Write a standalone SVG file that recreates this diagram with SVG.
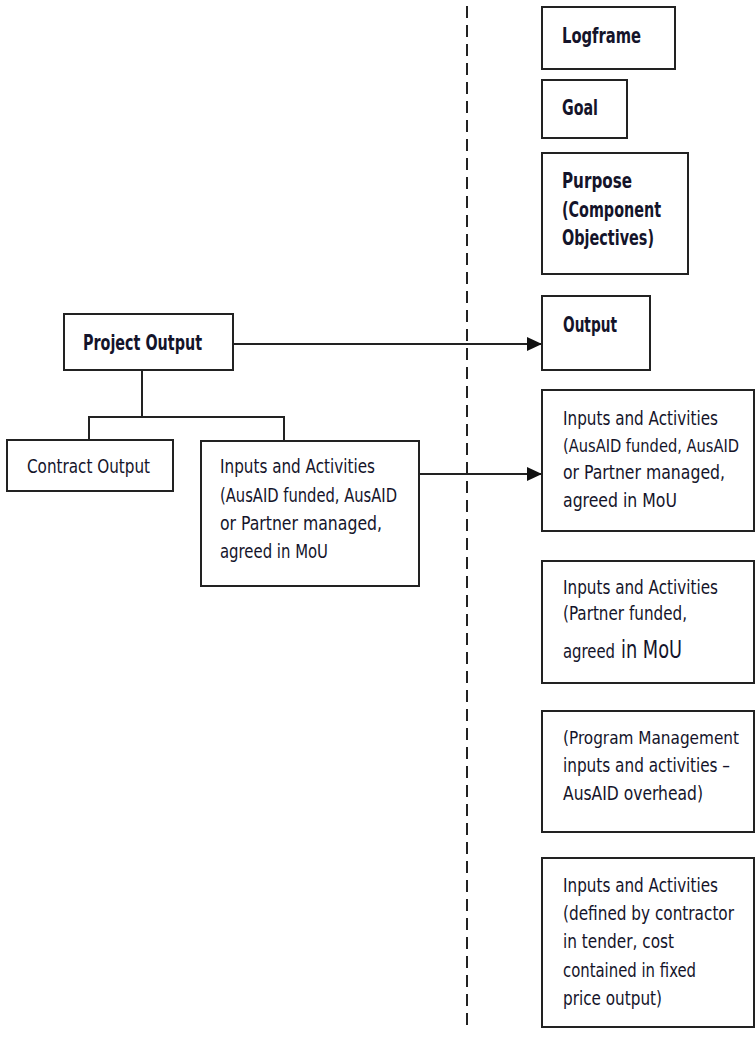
<svg xmlns="http://www.w3.org/2000/svg" width="755" height="1037" viewBox="0 0 755 1037">
<style>
.box{fill:#fff;stroke:#222;stroke-width:2}
.t{font-family:"Liberation Sans Narrow","DejaVu Sans Condensed","Liberation Sans",sans-serif;font-size:19px;fill:#14142a}
.h{font-weight:bold;font-size:21px}
.s{font-size:17px}
.ln{fill:none;stroke:#222;stroke-width:2}
</style>
<defs>
<marker id="arr" markerUnits="userSpaceOnUse" markerWidth="16" markerHeight="16" refX="15" refY="8" orient="auto">
<path d="M0,1 L15,8 L0,15 Z" fill="#111"/>
</marker>
</defs>
<rect width="755" height="1037" fill="#fff"/>
<g id="connectors">
<line x1="467" y1="6" x2="467" y2="1032" stroke="#222" stroke-width="2" stroke-dasharray="12 7"/>
<path class="ln" d="M233,344 H542" marker-end="url(#arr)"/>
<path class="ln" d="M419,474 H542" marker-end="url(#arr)"/>
<path class="ln" d="M142,370 V417 M89,440 V417 H284 V440"/>
</g>
<g id="logframe">
<rect class="box" x="542" y="7" width="133" height="62"/>
<text class="t h" x="562" y="43" textLength="79" lengthAdjust="spacingAndGlyphs">Logframe</text>
</g>
<g id="goal">
<rect class="box" x="542" y="80" width="85" height="58"/>
<text class="t h" x="562" y="115" textLength="36" lengthAdjust="spacingAndGlyphs">Goal</text>
</g>
<g id="purpose">
<rect class="box" x="542" y="153" width="146" height="121"/>
<text class="t h" x="562" y="188" textLength="70" lengthAdjust="spacingAndGlyphs">Purpose</text>
<text class="t h" x="562" y="217" textLength="99" lengthAdjust="spacingAndGlyphs">(Component</text>
<text class="t h" x="562" y="245" textLength="92" lengthAdjust="spacingAndGlyphs">Objectives)</text>
</g>
<g id="output">
<rect class="box" x="542" y="296" width="108" height="74"/>
<text class="t h" x="563" y="332" textLength="54" lengthAdjust="spacingAndGlyphs">Output</text>
</g>
<g id="inputs-ausaid-right">
<rect class="box" x="542" y="390" width="212" height="141"/>
<text class="t" x="563" y="425" textLength="155" lengthAdjust="spacingAndGlyphs">Inputs and Activities</text>
<text class="t s" x="563" y="452" textLength="176" lengthAdjust="spacingAndGlyphs">(AusAID funded, AusAID</text>
<text class="t" x="563" y="479" textLength="162" lengthAdjust="spacingAndGlyphs">or Partner managed,</text>
<text class="t" x="563" y="507" textLength="114" lengthAdjust="spacingAndGlyphs">agreed in MoU</text>
</g>
<g id="inputs-partner">
<rect class="box" x="542" y="561" width="212" height="122"/>
<text class="t" x="563" y="594" textLength="155" lengthAdjust="spacingAndGlyphs">Inputs and Activities</text>
<text class="t" x="563" y="620" textLength="124" lengthAdjust="spacingAndGlyphs">(Partner funded,</text>
<text class="t" x="563" y="658" textLength="52" lengthAdjust="spacingAndGlyphs">agreed</text>
<text class="t" x="621" y="658" textLength="61" lengthAdjust="spacingAndGlyphs" style="font-size:25px">in MoU</text>
</g>
<g id="program-management">
<rect class="box" x="542" y="711" width="212" height="121"/>
<text class="t s" x="563" y="744" textLength="176" lengthAdjust="spacingAndGlyphs">(Program Management</text>
<text class="t" x="563" y="772" textLength="167" lengthAdjust="spacingAndGlyphs">inputs and activities –</text>
<text class="t" x="563" y="800" textLength="140" lengthAdjust="spacingAndGlyphs">AusAID overhead)</text>
</g>
<g id="inputs-contractor">
<rect class="box" x="542" y="858" width="212" height="169"/>
<text class="t" x="563" y="892" textLength="155" lengthAdjust="spacingAndGlyphs">Inputs and Activities</text>
<text class="t" x="563" y="920" textLength="171" lengthAdjust="spacingAndGlyphs">(defined by contractor</text>
<text class="t" x="563" y="948" textLength="111" lengthAdjust="spacingAndGlyphs">in tender, cost</text>
<text class="t" x="563" y="977" textLength="133" lengthAdjust="spacingAndGlyphs">contained in fixed</text>
<text class="t" x="563" y="1005" textLength="99" lengthAdjust="spacingAndGlyphs">price output)</text>
</g>
<g id="project-output">
<rect class="box" x="64" y="314" width="169" height="56"/>
<text class="t h" x="83" y="350" textLength="119" lengthAdjust="spacingAndGlyphs">Project Output</text>
</g>
<g id="contract-output">
<rect class="box" x="7" y="440" width="166" height="51"/>
<text class="t" x="27" y="473" textLength="123" lengthAdjust="spacingAndGlyphs">Contract Output</text>
</g>
<g id="inputs-ausaid-left">
<rect class="box" x="201" y="441" width="218" height="145"/>
<text class="t" x="220" y="473" textLength="155" lengthAdjust="spacingAndGlyphs">Inputs and Activities</text>
<text class="t" x="220" y="502" textLength="177" lengthAdjust="spacingAndGlyphs">(AusAID funded, AusAID</text>
<text class="t" x="220" y="530" textLength="162" lengthAdjust="spacingAndGlyphs">or Partner managed,</text>
<text class="t" x="220" y="558" textLength="108" lengthAdjust="spacingAndGlyphs">agreed in MoU</text>
</g>
</svg>
